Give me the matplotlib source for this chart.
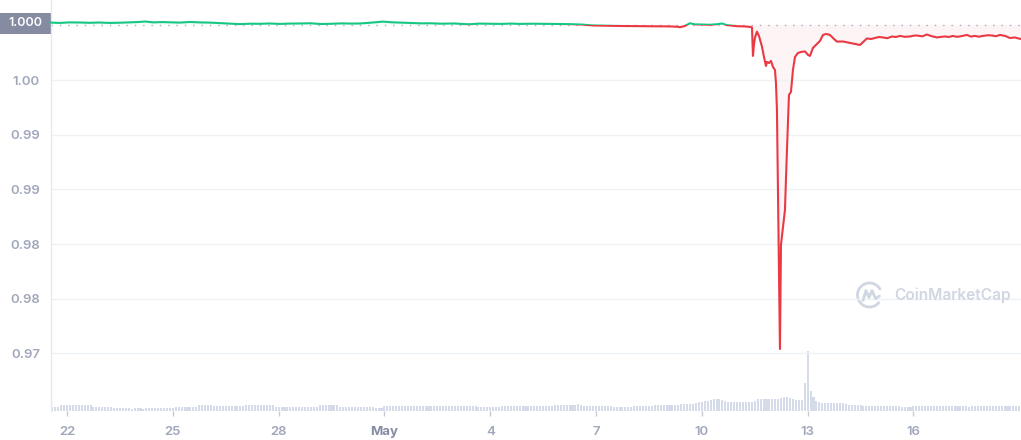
import matplotlib
matplotlib.use("Agg")
import matplotlib.pyplot as plt
from matplotlib.patches import Rectangle, Arc
from matplotlib.lines import Line2D
import numpy as np

plt.rcParams['font.family'] = ['Inter', 'DejaVu Sans']

# ---------------- data ----------------
# x = days since 22 April (00:00)
price_day = [
    -0.454, -0.20, 0.05, 0.369, 0.65, 0.90, 1.219, 1.50, 1.80, 2.00, 2.212, 2.45, 2.70, 2.920,
    3.20, 3.487, 3.75, 4.054, 4.30, 4.60, 4.905, 5.20, 5.472, 5.75, 6.039, 6.30, 6.606, 6.90,
    7.20, 7.457, 7.80, 8.05, 8.307, 8.60, 8.959, 9.20, 9.441, 9.80, 10.05, 10.292, 10.60,
    11.001, 11.20, 11.426, 11.70, 11.993, 12.30, 12.60, 12.844, 13.20, 13.553, 13.90, 14.262,
    14.60, 14.914, 15.30, 15.679, 16.10, 16.530, 16.80, 17.097, 17.30, 17.381, 17.50, 17.664,
    17.80, 17.948, 18.231, 18.45, 18.571, 18.70, 18.798, 19.00, 19.223, 19.365, 19.422,
    19.450, 19.480, 19.507, 19.563, 19.620, 19.705, 19.762, 19.819, 19.847, 19.904, 19.960,
    20.017, 20.074, 20.102, 20.130, 20.159, 20.187, 20.215, 20.244, 20.300, 20.357, 20.414,
    20.471, 20.527, 20.584, 20.641, 20.726, 20.811, 20.925, 21.010, 21.066, 21.151, 21.265,
    21.350, 21.435, 21.520, 21.633, 21.747, 21.832, 22.002, 22.200, 22.484, 22.682, 22.80,
    22.909, 23.02, 23.136, 23.26, 23.391, 23.50, 23.618, 23.75, 23.901, 24.00, 24.100, 24.25,
    24.383, 24.50, 24.667, 24.78, 24.894, 25.00, 25.120, 25.22, 25.319, 25.42, 25.518, 25.63,
    25.744, 25.86, 25.971, 26.10, 26.226, 26.34, 26.453, 26.60, 26.737, 26.878, 26.96, 27.049,
]
price_val = [
    1.00028, 1.00025, 1.00030, 1.00029, 1.00026, 1.00029, 1.00025, 1.00027, 1.00031, 1.00033,
    1.00038, 1.00030, 1.00033, 1.00031, 1.00028, 1.00034, 1.00030, 1.00028, 1.00024, 1.00020,
    1.00014, 1.00018, 1.00017, 1.00020, 1.00016, 1.00019, 1.00020, 1.00022, 1.00015, 1.00017,
    1.00021, 1.00019, 1.00020, 1.00027, 1.00037, 1.00031, 1.00028, 1.00024, 1.00021, 1.00022,
    1.00018, 1.00020, 1.00015, 1.00013, 1.00019, 1.00018, 1.00016, 1.00019, 1.00016, 1.00018,
    1.00017, 1.00015, 1.00014, 1.00010, 1.00002, 0.99999, 0.99997, 0.99996, 0.99995, 0.99994,
    0.99993, 0.99990, 0.99986, 0.99995, 1.00022, 1.00012, 1.00011, 1.00008, 1.00014, 1.00020,
    1.00006, 1.00002, 0.99995, 0.99993, 0.99988, 0.99984,
    0.99723, 0.99832, 0.99890, 0.99945, 0.99906, 0.99808, 0.99713, 0.99631, 0.99668, 0.99658,
    0.99677, 0.99622, 0.99594, 0.99475, 0.99228, 0.98495, 0.97763, 0.97039, 0.97992, 0.98147,
    0.98312, 0.98862, 0.99365, 0.99393, 0.99594, 0.99713, 0.99750, 0.99759, 0.99764, 0.99732,
    0.99723, 0.99796, 0.99832, 0.99860, 0.99915, 0.99924, 0.99915, 0.99878, 0.99854, 0.99855,
    0.99842, 0.99823, 0.99883, 0.99878, 0.99887, 0.99896, 0.99892, 0.99885, 0.99901, 0.99896,
    0.99906, 0.99898, 0.99901, 0.99908, 0.99910, 0.99902, 0.99919, 0.99905, 0.99892, 0.99897,
    0.99901, 0.99896, 0.99906, 0.99898, 0.99901, 0.99908, 0.99915, 0.99900, 0.99906, 0.99899,
    0.99906, 0.99912, 0.99910, 0.99903, 0.99915, 0.99906, 0.99887, 0.99892, 0.99884, 0.99878,
]
open_price = 1.00008
open_price_label = "1.000"

# 2-hour volume bars, first bar 21 April 14:00 (relative units)
volume_first_day = -5 / 12
volume_step_day = 1 / 12
volume = [
    4, 4, 4.5, 6, 6, 6, 6.5, 6, 6, 6, 6, 6.5,
    6, 6, 4.5, 4.5, 4.5, 4.5, 4.5, 4.5, 4.5, 3, 3, 3,
    3, 3, 3, 2.5, 3, 3, 3, 2.5, 3, 3, 3, 3,
    3, 3, 3, 3, 3, 3, 4, 4, 4, 4, 4, 4,
    4, 4, 6, 6, 6, 6, 6, 5, 5, 5, 5, 5,
    5, 5, 5, 5, 5, 5, 6.5, 6.5, 6.5, 6.5, 6.5, 6.5,
    6.5, 6.5, 6.5, 6.5, 4.5, 4.5, 4.5, 4.5, 4.5, 4.5, 4.5, 4.5,
    4.5, 4.5, 4.5, 4.5, 4.5, 4.5, 4.5, 6, 6, 6, 6.5, 6,
    6, 6, 4.5, 4.5, 4.5, 4.5, 4.5, 4.5, 4.5, 4.5, 4, 4,
    4, 4, 3.5, 3.5, 3.5, 5, 5, 5, 5, 5, 5, 5,
    5, 5, 5, 5, 5, 5, 5, 5, 5, 5, 5, 5,
    5, 5, 5, 5, 5, 5, 5, 5, 5, 5, 5, 5,
    5, 4, 4, 4, 4, 4, 4, 4, 4, 5.5, 5.5, 5.5,
    5.5, 5.5, 5.5, 5.5, 5.5, 5.5, 5.5, 5.5, 5.5, 5.5, 5.5, 5.5,
    5.5, 5.5, 5.5, 6.5, 6.5, 6.5, 6.5, 6.5, 6.5, 6.5, 6.5, 7,
    6, 5.5, 5.5, 5.5, 5.5, 5.5, 5.5, 5.5, 5.5, 5.5, 5, 4,
    4, 4, 4, 4, 4, 4.5, 5.5, 5.5, 5.5, 5.5, 5.5, 5.5,
    5.5, 6, 6, 6, 6, 6, 6, 6, 6.5, 6.5, 6.7, 6.7,
    6.7, 6.7, 7, 8, 8.7, 9.5, 10, 10.5, 11.5, 11.7, 11.7, 11.7,
    11.5, 10, 9.5, 9.3, 9.3, 9.3, 9.3, 9.3, 9.3, 8.7, 8.7, 10,
    11.7, 11.7, 11.7, 11.7, 11.7, 11.7, 12, 12.5, 13.5, 13.7, 13.7, 13,
    12, 11, 11, 11, 28, 60, 20, 14, 10, 9.3, 7.7, 7.7,
    7.7, 7.7, 7.7, 7.7, 7.7, 7.7, 7.5, 6, 6, 6, 6, 6,
    4.7, 4.7, 4.7, 4.7, 4.7, 4.7, 4.7, 4.7, 4.7, 4.7, 4.7, 4.7,
    4.7, 3.7, 3.7, 3.7, 3.7, 5, 5, 5, 5, 5, 5, 5,
    5, 5, 5, 5, 5, 5, 5, 5, 5, 5, 5, 5,
    3.7, 5, 5, 5, 5, 5, 5, 5, 5, 5, 5, 5,
    5, 5, 5, 5, 5, 5,
]

ytick_vals = [0.995, 0.990, 0.985, 0.980, 0.975, 0.970]
ytick_labels = ["1.00", "0.99", "0.99", "0.98", "0.98", "0.97"]
xtick_days = [0, 3, 6, 9, 12, 15, 18, 21, 24]
xtick_labels = ["22", "25", "28", "May", "4", "7", "10", "13", "16"]

# ---------------- style ----------------
GREEN = "#16c784"
RED = "#ea3943"
GRID = "#eff2f5"
LABEL = "#a1a7bb"
W, H = 1021, 440

fig = plt.figure(figsize=(W / 100, H / 100), dpi=100)
ax = fig.add_axes([51 / W, 29 / H, 970 / W, 411 / H])
axv = ax.twinx()
ax.set_zorder(axv.get_zorder() + 1)
ax.patch.set_visible(False)

x_min, x_max = -0.454, 27.05
y_min, y_max = 0.96471, 1.00235

# volume
vol_days = volume_first_day + volume_step_day * np.arange(len(volume))
axv.bar(vol_days, volume, width=0.058, color="#d5dbe8", linewidth=0)
axv.set_ylim(0, 411)
axv.set_yticks([])
for s in axv.spines.values():
    s.set_visible(False)

# price
pd_ = np.array(price_day)
pv = np.array(price_val)
ax.axhline(open_price, color="#a6b0c3", lw=1.0, ls=(0, (1, 5)), zorder=1)
ax.fill_between(pd_, pv, open_price, where=pv < open_price, interpolate=True,
                color=RED, alpha=0.05, linewidth=0, zorder=1)
ax.fill_between(pd_, pv, open_price, where=pv >= open_price, interpolate=True,
                color=GREEN, alpha=0.05, linewidth=0, zorder=1)
lg, = ax.plot(pd_, pv, color=GREEN, lw=1.5, zorder=3, solid_joinstyle="round")
lr, = ax.plot(pd_, pv, color=RED, lw=1.5, zorder=3, solid_joinstyle="round")
clip_up = Rectangle((x_min - 1, open_price), x_max - x_min + 2, 1.0, transform=ax.transData)
clip_dn = Rectangle((x_min - 1, open_price - 1.0), x_max - x_min + 2, 1.0, transform=ax.transData)
lg.set_clip_path(clip_up)
lr.set_clip_path(clip_dn)

ax.set_xlim(x_min, x_max)
axv.set_xlim(x_min, x_max)
ax.set_ylim(y_min, y_max)

ax.set_yticks(ytick_vals)
ax.set_yticklabels(ytick_labels)
ax.grid(axis="y", color=GRID, lw=1.0, zorder=0)
ax.set_xticks(xtick_days)
ax.set_xticklabels(xtick_labels)
ax.tick_params(axis="y", length=0, pad=8, labelsize=9.5, labelcolor=LABEL)
ax.tick_params(axis="x", length=3.5, width=1, color="#c5ccd8", pad=7, labelsize=9.5,
               labelcolor=LABEL)
for lab in ax.get_yticklabels() + ax.get_xticklabels():
    lab.set_fontweight("semibold")
for lab in ax.get_xticklabels():
    if lab.get_text() == "May":
        lab.set_fontweight("bold")
        lab.set_color("#858ca2")

for k, s in ax.spines.items():
    s.set_visible(k == "left")
ax.spines["left"].set_color("#e6e9ef")
ax.spines["left"].set_linewidth(1.0)

# current price label box
fig.add_artist(Rectangle((0, (H - 34) / H), 51 / W, 21 / H, transform=fig.transFigure,
                         color="#858ca2", lw=0))
fig.text(25.5 / W, (H - 23.5) / H, open_price_label, ha="center", va="center",
         color="white", fontsize=9, fontweight="semibold")

# watermark
wm = "#d0d7e3"
fig.text(1011 / W, (H - 295) / H, "CoinMarketCap", ha="right", va="center",
         color=wm, fontsize=11.2, fontweight="semibold")
cx, cy, r = 869.5 / 100, (H - 295) / 100, 0.12
fig.add_artist(Arc((cx, cy), 2 * r, 2 * r, theta1=25, theta2=325,
                   transform=fig.dpi_scale_trans, color=wm, lw=2.0))
fig.add_artist(Line2D([cx - 0.065, cx - 0.035, cx - 0.005, cx + 0.025, cx + 0.06, cx + 0.10],
                      [cy - 0.055, cy + 0.045, cy - 0.025, cy + 0.045, cy - 0.035, cy - 0.01],
                      transform=fig.dpi_scale_trans, color=wm, lw=2.0,
                      solid_capstyle="round", solid_joinstyle="round"))

fig.savefig("out.png", dpi=100)
